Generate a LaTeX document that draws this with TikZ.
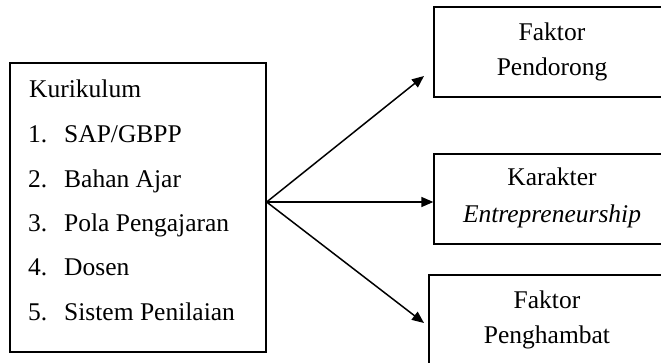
\documentclass[tikz,border=0pt]{standalone}
\usepackage{fontspec}
\setmainfont{Liberation Serif}
\usetikzlibrary{arrows.meta}
\begin{document}
\begin{tikzpicture}[x=1pt,y=-1pt,
  box/.style={draw,line width=1.3pt,inner sep=0pt,minimum width=236pt,minimum height=90pt},
  txt/.style={inner sep=0pt,font=\fontsize{25.5}{30}\selectfont},
  arr/.style={line width=1.5pt,-{Triangle[length=12pt,width=10pt]}}]
\useasboundingbox (0,0) rectangle (661,362);
\clip (0,0) rectangle (661,362);
% left box
\node[draw,line width=1.3pt,inner sep=0pt,minimum width=256pt,minimum height=289pt] (kur) at (138,207.5) {};
\node[txt,anchor=base west] (t0) at (29,97) {Kurikulum};
\node[txt,anchor=base west] (n1) at (28,142) {1.};
\node[txt,anchor=base west] (t1) at (64,142) {SAP/GBPP};
\node[txt,anchor=base west] (n2) at (28,187) {2.};
\node[txt,anchor=base west] (t2) at (64,187) {Bahan Ajar};
\node[txt,anchor=base west] (n3) at (28,231) {3.};
\node[txt,anchor=base west] (t3) at (64,231) {Pola Pengajaran};
\node[txt,anchor=base west] (n4) at (28,275) {4.};
\node[txt,anchor=base west] (t4) at (64,275) {Dosen};
\node[txt,anchor=base west] (n5) at (28,320) {5.};
\node[txt,anchor=base west] (t5) at (64,320) {Sistem Penilaian};
% right boxes
\node[box] (fp) at (552,52) {};
\node[txt,anchor=base] (fp1) at (552,40) {Faktor};
\node[txt,anchor=base] (fp2) at (552,75) {Pendorong};
\node[box] (ke) at (552,199) {};
\node[txt,anchor=base] (ke1) at (552,185) {Karakter};
\node[txt,anchor=base] (ke2) at (552,222) {\itshape Entrepreneurship};
\node[box] (fh) at (547,320) {};
\node[txt,anchor=base] (fh1) at (547,308) {Faktor};
\node[txt,anchor=base] (fh2) at (547,343) {Penghambat};
% arrows
\coordinate (o) at (kur.east |- 0,202);
\coordinate (e1) at (424,76);
\coordinate (e3) at (424,323);
\draw[arr] (o) -- (e1);
\draw[arr] (o) -- (ke.west |- o);
\draw[arr] (o) -- (e3);
\end{tikzpicture}
\end{document}
